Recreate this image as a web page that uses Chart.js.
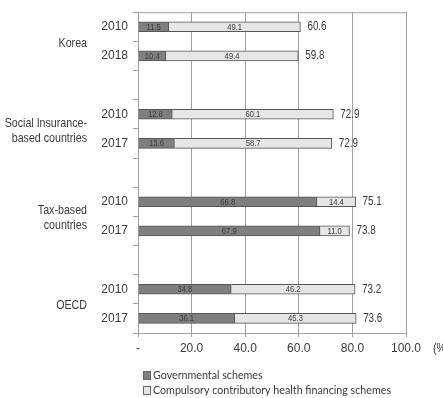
<!DOCTYPE html>
<html>
<head>
<meta charset="utf-8">
<script src="https://cdn.jsdelivr.net/npm/chart.js@4"></script>
<style>
  html, body { margin: 0; padding: 0; background: #fff; }
  canvas { display: block; }
</style>
</head>
<body>
<canvas id="chart" width="443" height="398"></canvas>
<script>
// rows of the chart (blank rows keep the gaps between groups)
const rowLabels = ['2010', '2018', '', '2010', '2017', '', '2010', '2017', '', '2010', '2017'];
const govSchemes = [11.5, 10.4, null, 12.8, 13.6, null, 66.8, 67.9, null, 34.8, 36.1];
const compSchemes = [49.1, 49.4, null, 60.1, 58.7, null, 14.4, 11.0, null, 46.2, 45.3];
const totals = [60.6, 59.8, null, 72.9, 72.9, null, 75.1, 73.8, null, 73.2, 73.6];

const groupNames = [['Korea'], ['Social Insurance-', 'based countries'], ['Tax-based', 'countries'], ['OECD']];
const groupFirstRow = [0, 3, 6, 9];

const seriesNames = ['Governmental schemes', 'Compulsory contributory health financing schemes'];
const xTicks = [0, 20, 40, 60, 80, 100];
const unitLabel = '(%)';

const SANS = '"Liberation Sans", Arial, sans-serif';
const TEXT = '#3a3a3a';
const GRID = '#a0a0a0';

// narrow text, like the Arial Narrow of the original
function narrowText(ctx, txt, x, y, sx) {
  ctx.save();
  ctx.translate(x, y);
  ctx.scale(sx, 1);
  ctx.fillText(txt, 0, 0);
  ctx.restore();
}

const extras = {
  id: 'extras',
  beforeDatasetsDraw(chart) {
    const { ctx, chartArea: a } = chart;
    ctx.save();
    ctx.strokeStyle = GRID;
    ctx.lineWidth = 1;
    ctx.strokeRect(a.left + 0.5, a.top + 0.5, a.right - a.left, a.bottom - a.top);
    ctx.restore();
  },
  afterDraw(chart) {
    const { ctx, chartArea: a } = chart;
    const y = chart.scales.y;
    const mGov = chart.getDatasetMeta(0), mComp = chart.getDatasetMeta(1);
    ctx.save();
    ctx.fillStyle = TEXT;
    ctx.textBaseline = 'middle';

    // values inside the segments
    ctx.font = '9px ' + SANS;
    ctx.textAlign = 'center';
    [mGov, mComp].forEach((m, di) => {
      const vals = di === 0 ? govSchemes : compSchemes;
      m.data.forEach((bar, i) => {
        if (vals[i] == null) return;
        narrowText(ctx, vals[i].toFixed(1), (bar.x + bar.base) / 2, bar.y + 0.5, 0.85);
      });
    });

    // totals after the bar end
    ctx.font = '12px ' + SANS;
    ctx.textAlign = 'left';
    mComp.data.forEach((bar, i) => {
      if (totals[i] == null) return;
      narrowText(ctx, totals[i].toFixed(1), bar.x + 7, bar.y, 0.82);
    });

    // group labels
    ctx.font = '13px ' + SANS;
    ctx.textAlign = 'right';
    groupNames.forEach((lines, g) => {
      const r = groupFirstRow[g];
      const cy = (y.getPixelForValue(r) + y.getPixelForValue(r + 1)) / 2;
      const lh = 15;
      lines.forEach((ln, k) => {
        narrowText(ctx, ln, 87, cy + (k - (lines.length - 1) / 2) * lh + 2, 0.82);
      });
    });

    // unit label at the end of x ticks
    ctx.textAlign = 'left';
    narrowText(ctx, unitLabel, a.right + 27, a.bottom + 15, 0.82);

    // legend
    ctx.font = '10.7px Lato, "Open Sans", sans-serif';
    chart.data.datasets.forEach((ds, i) => {
      const ly = 376 + i * 15;
      ctx.fillStyle = ds.backgroundColor;
      ctx.fillRect(143.5, ly - 4.5, 7, 8);
      ctx.strokeStyle = '#666';
      ctx.strokeRect(143.5, ly - 4.5, 7, 8);
      ctx.fillStyle = TEXT;
      ctx.fillText(ds.label, 153, ly);
    });
    ctx.restore();
  }
};

new Chart(document.getElementById('chart'), {
  type: 'bar',
  data: {
    labels: rowLabels,
    datasets: [
      { label: seriesNames[0], data: govSchemes, backgroundColor: '#7f7f7f', borderColor: '#555', borderWidth: 1, barThickness: 10 },
      { label: seriesNames[1], data: compSchemes, backgroundColor: '#e6e6e6', borderColor: '#555', borderWidth: 1, barThickness: 10 }
    ]
  },
  options: {
    indexAxis: 'y',
    responsive: false,
    animation: false,
    layout: { padding: { left: 0, right: 37, top: 5, bottom: 0 } },
    plugins: { legend: { display: false }, tooltip: { enabled: false } },
    scales: {
      x: {
        stacked: true,
        min: 0, max: 100,
        afterBuildTicks: s => { s.ticks = xTicks.map(v => ({ value: v })); },
        afterFit: s => { s.height = 65; },
        grid: { color: GRID, tickLength: 4 },
        border: { color: GRID },
        ticks: {
          color: TEXT, padding: 4,
          font: { family: SANS, size: 12 },
          callback: v => v === 0 ? '-' : v.toFixed(1)
        }
      },
      y: {
        stacked: true,
        afterFit: s => { s.width = 138; },
        grid: { drawOnChartArea: false, offset: true, tickLength: 5, color: GRID },
        border: { color: GRID },
        ticks: { color: TEXT, padding: 5, font: { family: SANS, size: 12 } }
      }
    }
  },
  plugins: [extras]
});
</script>
</body>
</html>
